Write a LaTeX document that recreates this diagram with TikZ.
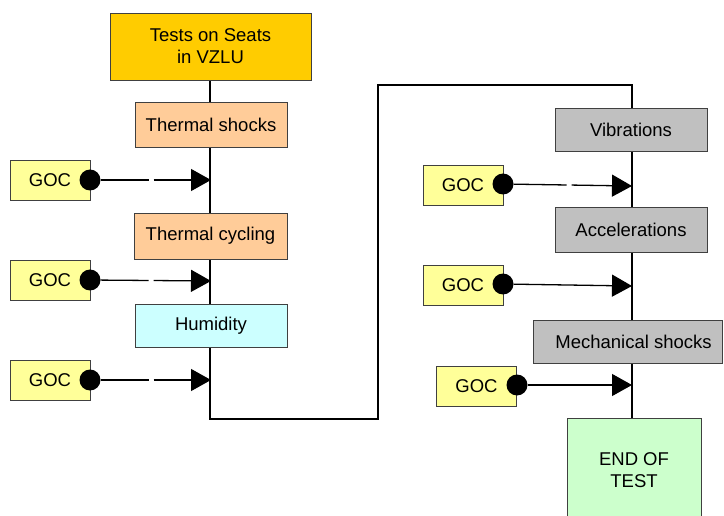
\documentclass[tikz,border=0pt]{standalone}
\usepackage{fontspec}
\setmainfont{Liberation Sans}
\usetikzlibrary{arrows.meta,backgrounds}
\definecolor{gold}{HTML}{FFCC00}
\definecolor{peach}{HTML}{FFCC99}
\definecolor{lcyan}{HTML}{CCFFFF}
\definecolor{lgray}{HTML}{C0C0C0}
\definecolor{lyellow}{HTML}{FFFF99}
\definecolor{lgreen}{HTML}{CCFFCC}
\definecolor{bord}{HTML}{404040}
\tikzset{
  box/.style={draw=bord, line width=0.9pt, inner sep=0pt, align=center,
    font=\fontsize{18.5}{22}\selectfont},
  goc/.style={box, fill=lyellow, minimum width=80pt, minimum height=40pt},
  dot/.style={circle, fill=black, inner sep=0pt, minimum size=21pt},
  mainline/.style={line width=2.8pt, line join=miter},
  feed/.style={line width=1.3pt, -{Triangle[length=20pt,width=22pt]}},
}
\begin{document}
\begin{tikzpicture}[x=1pt,y=-1pt]
\useasboundingbox (0,0) rectangle (724,516);
\clip (0,0) rectangle (724,516);
% left column
\node[box, fill=gold, minimum width=201pt, minimum height=67pt] (tests) at (210.5,46.5) {Tests on Seats\\in VZLU};
\node[box, fill=peach, minimum width=152pt, minimum height=45pt] (tshock) at (211,124.5) {Thermal shocks};
\node[box, fill=peach, minimum width=153pt, minimum height=46pt] (tcyc) at (210.5,236) {Thermal cycling};
\node[box, fill=lcyan, minimum width=152pt, minimum height=43pt] (hum) at (211,325.5) {Humidity};
% right column
\node[box, fill=lgray, minimum width=152pt, minimum height=43pt] (vib) at (631,129.5) {Vibrations};
\node[box, fill=lgray, minimum width=152pt, minimum height=45pt] (acc) at (631,229.5) {Accelerations};
\node[box, fill=lgray, minimum width=189pt, minimum height=43pt] (mech) at (627.5,341.5) {\hspace*{12pt}Mechanical shocks};
\node[box, fill=lgreen, minimum width=134pt, minimum height=104pt] (end) at (634,470) {END OF\\TEST};
% GOC boxes
\node[goc] (g1) at (50,180) {GOC};
\node[goc] (g2) at (50,280) {GOC};
\node[goc] (g3) at (50,380) {GOC};
\node[goc] (g4) at (463,185) {GOC};
\node[goc] (g5) at (463,285) {GOC};
\node[goc] (g6) at (476.5,386) {GOC};
% dots
\node[dot] (d1) at (90,180) {};
\node[dot] (d2) at (90,280) {};
\node[dot] (d3) at (90,380) {};
\node[dot] (d4) at (503,184) {};
\node[dot] (d5) at (503,284) {};
\node[dot] (d6) at (517,385) {};
% points on the main line
\coordinate (t1) at (211,180);
\coordinate (t2) at (211,281);
\coordinate (t3) at (211,380);
\coordinate (t4) at (632,186);
\coordinate (t5) at (632,286);
\coordinate (t6) at (632,385);
\coordinate (c1) at (210,419);
\coordinate (c2) at (378,419);
\coordinate (c3) at (378,85);
\coordinate (c4) at (632,85);
\coordinate (c5) at (632,419);
\begin{scope}[on background layer]
  \draw[mainline] (tests.south -| c1) -- (c1) -- (c2) -- (c3) -- (c4) -- (c5);
\end{scope}
% feeds
\draw[feed, dash pattern=on 48pt off 5pt on 300pt] (d1) -- (t1);
\draw[feed, dash pattern=on 48pt off 5pt on 300pt] (d2) -- (t2);
\draw[feed, dash pattern=on 48pt off 5pt on 300pt] (d3) -- (t3);
\draw[feed, dash pattern=on 53pt off 5pt on 300pt] (d4) -- (t4);
\draw[feed] (d5) -- (t5);
\draw[feed] (d6) -- (t6);
\end{tikzpicture}
\end{document}
